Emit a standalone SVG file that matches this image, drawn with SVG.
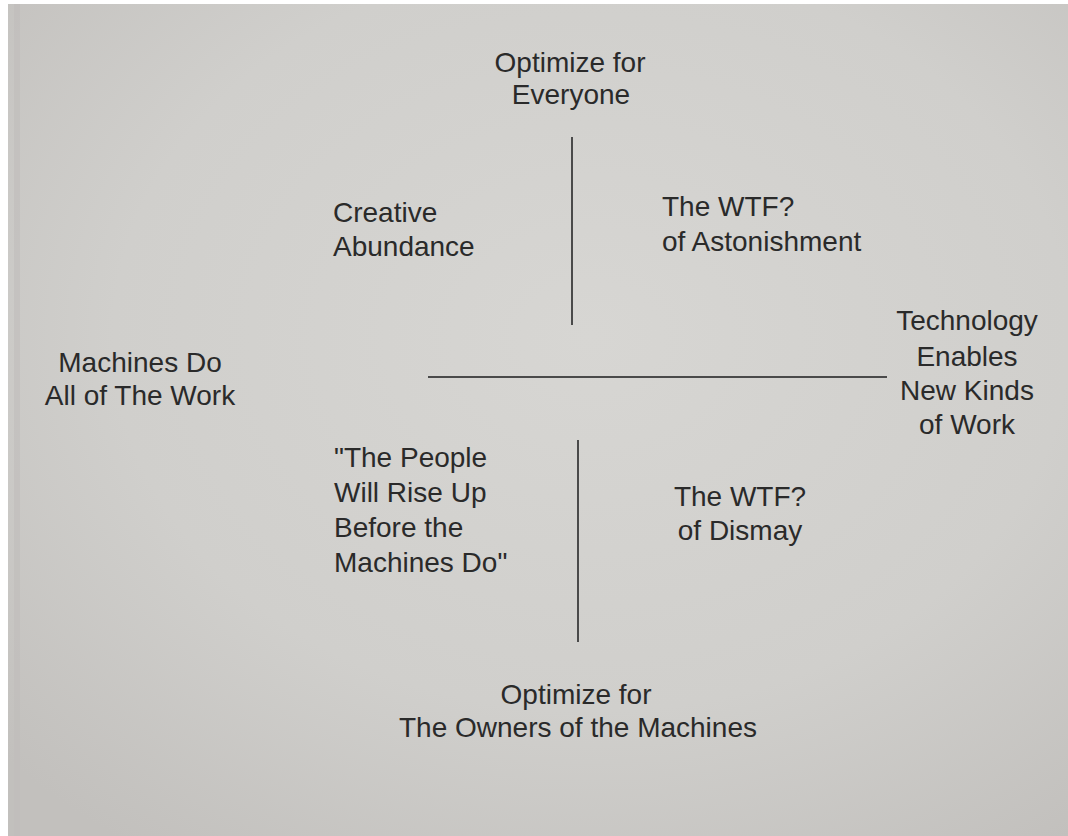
<svg xmlns="http://www.w3.org/2000/svg" width="1068" height="836" viewBox="0 0 1068 836">
<defs>
<radialGradient id="bg" cx="0.55" cy="0.4" r="0.75">
<stop offset="0" stop-color="#d7d6d3"/>
<stop offset="0.6" stop-color="#d0cfcc"/>
<stop offset="1" stop-color="#c2c0bd"/>
</radialGradient>
<style>
.t{font-family:"Liberation Sans",Arial,sans-serif;font-size:28px;fill:#2a2a2a;}
.m{text-anchor:middle;}
.ax{stroke:#4a4a4a;stroke-width:2;fill:none;}
</style>
</defs>
<rect x="0" y="0" width="1068" height="836" fill="#ffffff"/>
<rect x="8" y="4" width="1060" height="832" fill="url(#bg)"/>
<rect x="14" y="4" width="6" height="832" fill="#bfbdba" opacity="0.6"/>
<g id="connectors">
<line class="ax" x1="572" y1="137" x2="572" y2="325"/>
<line class="ax" x1="428" y1="377" x2="887" y2="377"/>
<line class="ax" x1="578" y1="440" x2="578" y2="642"/>
</g>
<g id="top"><text class="t m" x="570" y="72">Optimize for</text><text class="t m" x="571" y="104">Everyone</text></g>
<g id="creative"><text class="t" x="333" y="222">Creative</text><text class="t" x="333" y="256">Abundance</text></g>
<g id="astonishment"><text class="t" x="662" y="216">The WTF?</text><text class="t" x="662" y="251">of Astonishment</text></g>
<g id="left"><text class="t m" x="140" y="372">Machines Do</text><text class="t m" x="140" y="405">All of The Work</text></g>
<g id="right"><text class="t m" x="967" y="330">Technology</text><text class="t m" x="967" y="366">Enables</text><text class="t m" x="967" y="400">New Kinds</text><text class="t m" x="967" y="434">of Work</text></g>
<g id="people"><text class="t" x="334" y="467">"The People</text><text class="t" x="334" y="502">Will Rise Up</text><text class="t" x="334" y="537">Before the</text><text class="t" x="334" y="572">Machines Do"</text></g>
<g id="dismay"><text class="t m" x="740" y="506">The WTF?</text><text class="t m" x="740" y="540">of Dismay</text></g>
<g id="bottom"><text class="t m" x="576" y="704">Optimize for</text><text class="t m" x="578" y="737">The Owners of the Machines</text></g>
</svg>
